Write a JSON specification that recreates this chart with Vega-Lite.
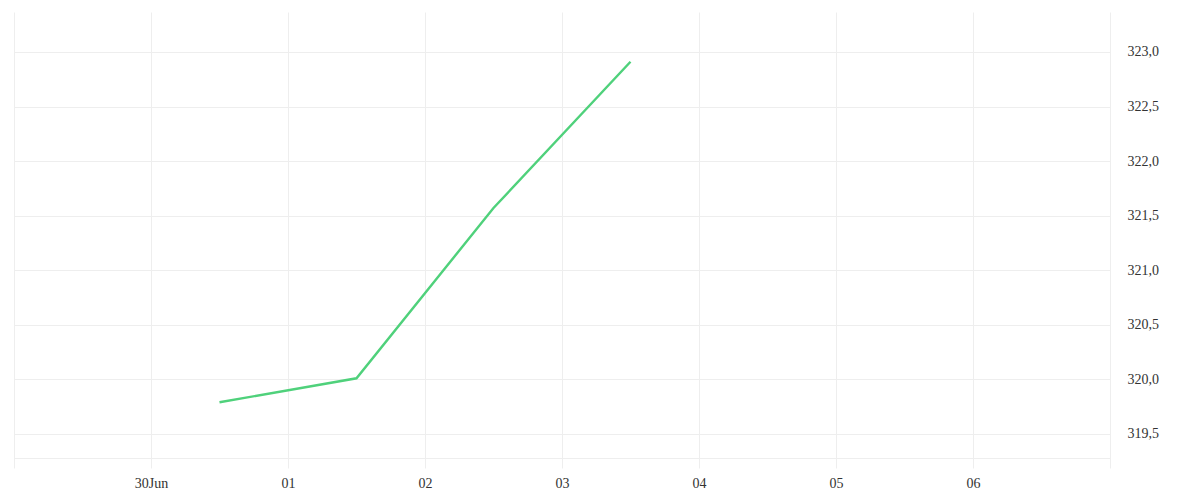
{
  "$schema": "https://vega.github.io/schema/vega-lite/v6.json",
  "autosize": "none",
  "padding": {"left": 14, "top": 12, "right": 90, "bottom": 32},
  "width": 1096,
  "height": 456,
  "background": "white",
  "data": {
    "values": [
      {"date": "2024-06-30T12:00:00Z", "value": 319.79},
      {"date": "2024-07-01T12:00:00Z", "value": 320.01},
      {"date": "2024-07-02T12:00:00Z", "value": 321.57},
      {"date": "2024-07-03T12:00:00Z", "value": 322.91}
    ]
  },
  "mark": {"type": "line", "color": "#4fd17b", "strokeWidth": 2.4},
  "encoding": {
    "x": {
      "field": "date",
      "type": "temporal",
      "title": null,
      "scale": {
        "type": "utc",
        "domain": [
          {"year": 2024, "month": 6, "date": 29, "utc": true},
          {"year": 2024, "month": 7, "date": 7, "utc": true}
        ]
      },
      "axis": {
        "values": [
          {"year": 2024, "month": 6, "date": 29, "utc": true},
          {"year": 2024, "month": 6, "date": 30, "utc": true},
          {"year": 2024, "month": 7, "date": 1, "utc": true},
          {"year": 2024, "month": 7, "date": 2, "utc": true},
          {"year": 2024, "month": 7, "date": 3, "utc": true},
          {"year": 2024, "month": 7, "date": 4, "utc": true},
          {"year": 2024, "month": 7, "date": 5, "utc": true},
          {"year": 2024, "month": 7, "date": 6, "utc": true},
          {"year": 2024, "month": 7, "date": 7, "utc": true}
        ],
        "labelExpr": "datum.index == 0 || datum.index == 1 ? '' : (utcFormat(datum.value, '%d') == '30' ? utcFormat(datum.value, '%d%b') : utcFormat(datum.value, '%d'))",
        "grid": true,
        "gridColor": "#eeeeee",
        "gridWidth": 1,
        "domain": false,
        "ticks": false,
        "labelPadding": 8,
        "labelFont": "Liberation Serif",
        "labelFontSize": 14,
        "labelColor": "#333333",
        "labelFlush": false,
        "labelOverlap": false
      }
    },
    "y": {
      "field": "value",
      "type": "quantitative",
      "title": null,
      "scale": {"domain": [319.188, 323.366], "nice": false, "zero": false},
      "axis": {
        "orient": "right",
        "values": [319.28, 319.5, 320, 320.5, 321, 321.5, 322, 322.5, 323],
        "labelExpr": "datum.value < 319.4 ? '' : replace(format(datum.value, '.1f'), '.', ',')",
        "grid": true,
        "gridColor": "#eeeeee",
        "gridWidth": 1,
        "domain": false,
        "ticks": false,
        "labelPadding": 17,
        "labelFont": "Liberation Serif",
        "labelFontSize": 14,
        "labelColor": "#333333",
        "labelFlush": false,
        "labelOverlap": false
      }
    }
  },
  "config": {
    "view": {"stroke": null}
  }
}
